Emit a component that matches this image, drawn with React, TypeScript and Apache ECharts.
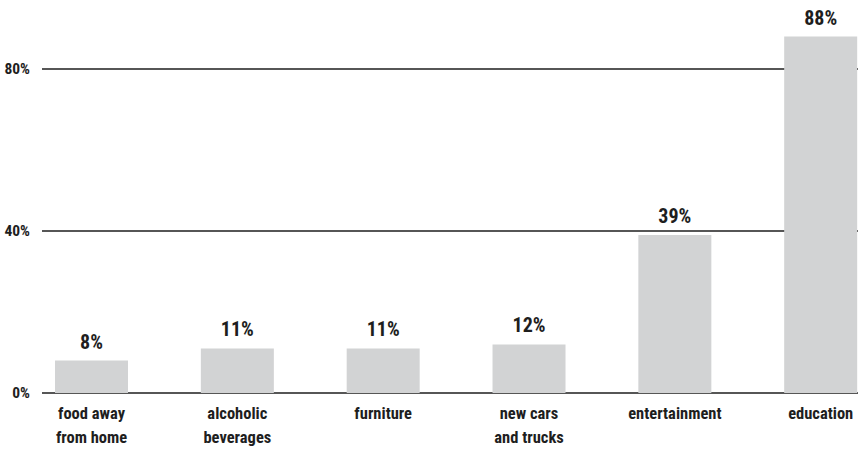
import React, { useEffect, useRef } from "react";
import * as echarts from "echarts";

const categories = [
  "food away\nfrom home",
  "alcoholic\nbeverages",
  "furniture",
  "new cars\nand trucks",
  "entertainment",
  "education",
];
const values = [8, 11, 11, 12, 39, 88];
const yTicks = [0, 40, 80];

const FONT = "'Roboto Condensed', 'Open Sans Condensed', 'DejaVu Sans Condensed', sans-serif";
const INK = "#1e1e1e";

export default function App() {
  const ref = useRef<HTMLDivElement>(null);
  useEffect(() => {
    if (!ref.current) return;
    const chart = echarts.init(ref.current, undefined, { renderer: "svg" });
    chart.setOption({
      animation: false,
      grid: [
        { left: 42, right: 0, top: 69, bottom: 59, outerBoundsMode: "none" },
        { left: 18.6, width: 875, top: 69, bottom: 59, outerBoundsMode: "none" },
      ],
      xAxis: [
        { type: "value", gridIndex: 0, min: 0, max: 1, show: false },
        {
          type: "category",
          gridIndex: 1,
          data: categories,
          axisLine: { show: false },
          axisTick: { show: false },
          axisLabel: {
            color: INK,
            fontFamily: FONT,
            fontWeight: "bold",
            fontSize: 16.5,
            lineHeight: 24,
            margin: 8,
            interval: 0,
          },
        },
      ],
      yAxis: [
        {
          type: "value",
          gridIndex: 0,
          min: yTicks[0],
          max: yTicks[yTicks.length - 1],
          interval: 40,
          axisLine: { show: false },
          axisTick: { show: false },
          axisLabel: {
            color: INK,
            fontFamily: FONT,
            fontWeight: "bold",
            fontSize: 15.5,
            margin: 12,
            formatter: "{value}%",
          },
          splitLine: { show: true, lineStyle: { color: INK, width: 1.5 } },
        },
        {
          type: "value",
          gridIndex: 1,
          min: yTicks[0],
          max: yTicks[yTicks.length - 1],
          interval: 40,
          show: false,
          splitLine: { show: false },
        },
      ],
      series: [
        {
          type: "bar",
          xAxisIndex: 1,
          yAxisIndex: 1,
          data: values,
          barWidth: 73,
          clip: false,
          itemStyle: { color: "#d2d3d4" },
          label: {
            show: true,
            position: "top",
            distance: 9,
            formatter: "{c}%",
            color: INK,
            fontFamily: FONT,
            fontWeight: "bold",
            fontSize: 20,
          },
          z: 3,
        },
      ],
    });
    return () => chart.dispose();
  }, []);
  return <div ref={ref} style={{ width: 858, height: 452, position: "absolute", left: 0, top: 0 }} />;
}
